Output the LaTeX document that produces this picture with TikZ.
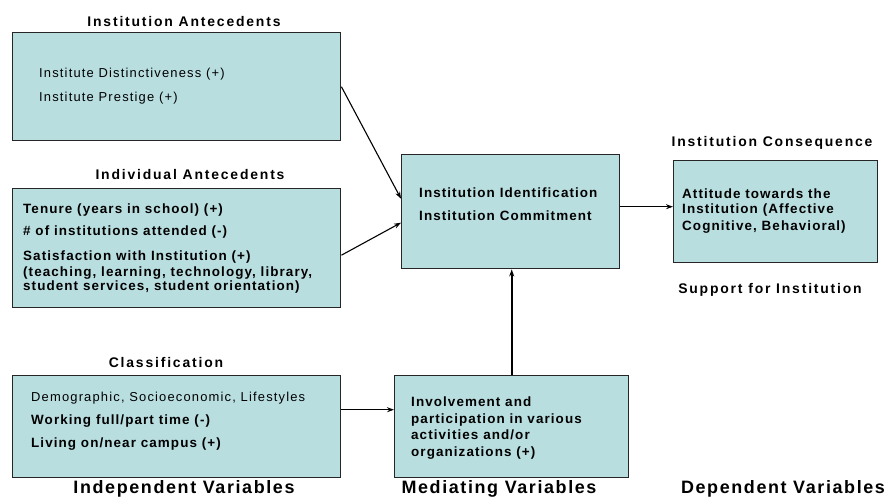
\documentclass[tikz,border=0pt]{standalone}
\usepackage{fontspec}
\setmainfont{Liberation Sans}
\usetikzlibrary{arrows.meta,calc}
\definecolor{boxfill}{RGB}{185,222,224}
\begin{document}
\begin{tikzpicture}[x=1bp,y=-1bp,
  box/.style={draw=black!85, line width=1.4bp, fill=boxfill, inner sep=0pt, anchor=north west},
  head/.style={inner sep=0pt, font=\bfseries\fontsize{14}{16}\selectfont\addfontfeatures{LetterSpace=13}},
  big/.style={inner sep=0pt, anchor=base, font=\bfseries\fontsize{18}{20}\selectfont\addfontfeatures{LetterSpace=9}},
  item/.style={anchor=base west, inner sep=0pt, font=\fontsize{13}{15}\selectfont\addfontfeatures{LetterSpace=9}},
  bitem/.style={anchor=base west, inner sep=0pt, font=\bfseries\fontsize{13.5}{15}\selectfont\addfontfeatures{LetterSpace=8}},
  link/.style={-{Stealth[length=7bp,width=5bp]}, line width=1.1bp},
  thick link/.style={link, line width=2bp}
]
\useasboundingbox (0,0) rectangle (886,497);

% boxes
\node[box, minimum width=328bp, minimum height=108bp] (ia) at (12,32) {};
\node[box, minimum width=328bp, minimum height=119bp] (ind) at (12,188) {};
\node[box, minimum width=328bp, minimum height=102bp] (cls) at (12,375) {};
\node[box, minimum width=218bp, minimum height=114bp] (idc) at (401,154) {};
\node[box, minimum width=234bp, minimum height=102bp] (inv) at (394,375) {};
\node[box, minimum width=204bp, minimum height=102bp] (cons) at (673,160) {};

% headings
\node[head] (ia-h) at (184,22) {Institution Antecedents};
\node[head] (ind-h) at (190,175) {Individual Antecedents};
\node[head] (cls-h) at (166,363) {Classification};
\node[head] (cons-h) at (772,143) {Institution Consequence};
\node[head] (sup-h) at (770,290) {Support for Institution};
\node[big] (indep) at (184,493) {Independent Variables};
\node[big] (med) at (499,493) {Mediating Variables};
\node[big] (dep) at (783,493) {Dependent Variables};

% box contents
\node[item] (ia-1) at (39,78) {Institute Distinctiveness (+)};
\node[item] (ia-2) at (39,102) {Institute Prestige (+)};

\node[bitem] (ind-1) at (23,214) {Tenure (years in school) (+)};
\node[bitem] (ind-2) at (23,236) {\# of institutions attended (-)};
\node[bitem] (ind-3) at (23,261) {Satisfaction with Institution (+)};
\node[bitem] (ind-4) at (23,276.5) {(teaching, learning, technology, library,};
\node[bitem] (ind-5) at (23,291) {student services, student orientation)};

\node[item] (cls-1) at (31,401) {Demographic, Socioeconomic, Lifestyles};
\node[bitem] (cls-2) at (31,424) {Working full/part time (-)};
\node[bitem] (cls-3) at (31,447) {Living on/near campus (+)};

\node[bitem] (idc-1) at (419,198) {Institution Identification};
\node[bitem] (idc-2) at (419,221) {Institution Commitment};

\node[bitem] (inv-1) at (411,406) {Involvement and};
\node[bitem] (inv-2) at (411,423) {participation in various};
\node[bitem] (inv-3) at (411,439) {activities and/or};
\node[bitem] (inv-4) at (411,456) {organizations (+)};

\node[bitem] (cons-1) at (682,199) {Attitude towards the};
\node[bitem] (cons-2) at (682,214) {Institution (Affective};
\node[bitem] (cons-3) at (682,231) {Cognitive, Behavioral)};

% connectors
\draw[link] (ia.east) -- ($(idc.west)+(0,-13)$);
\draw[link] ($(ind.east)+(0,7)$) -- ($(idc.west)+(0,11)$);
\coordinate (idc-out) at ($(idc.east)+(0,-5)$);
\draw[link] (idc-out) -- (idc-out -| cons.west);
\coordinate (cls-out) at ($(cls.east)+(0,-17)$);
\draw[link] (cls-out) -- (cls-out -| inv.west);
\draw[thick link] (inv.north) -- (inv.north |- idc.south);
\end{tikzpicture}
\end{document}
